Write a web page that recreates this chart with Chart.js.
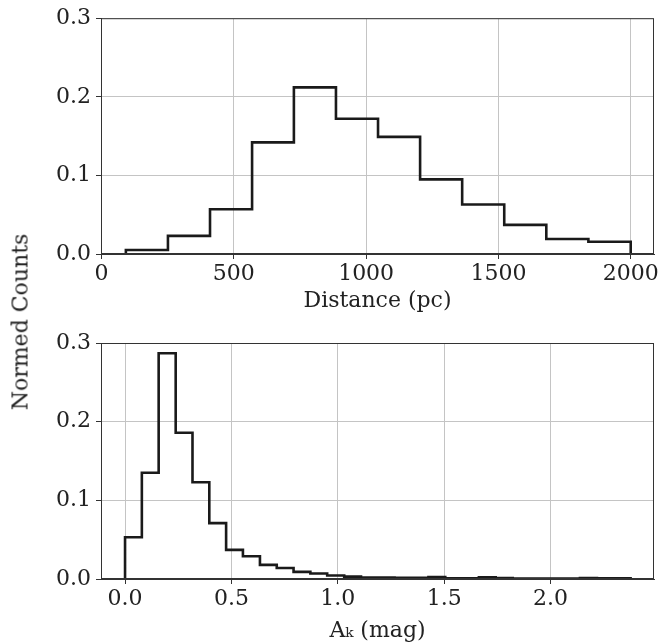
<!DOCTYPE html>
<html>
<head>
<meta charset="utf-8">
<script src="https://cdn.jsdelivr.net/npm/chart.js@4.4.1/dist/chart.umd.min.js"></script>
<style>
  html, body { margin: 0; padding: 0; background: #fff; }
  #wrap { position: relative; width: 663px; height: 644px; }
  canvas { position: absolute; left: 0; }
  #ylabel {
    position: absolute; left: 20px; top: 322px;
    transform: translate(-50%, -50%) rotate(-90deg);
    font: 22px "DejaVu Serif", serif; color: #222; white-space: nowrap;
  }
</style>
</head>
<body>
<div id="wrap">
  <canvas id="top" width="663" height="322" style="top:0"></canvas>
  <canvas id="bottom" width="663" height="322" style="top:322px"></canvas>
  <div id="ylabel">Normed Counts</div>
</div>
<script>
// distance histogram (bin edges in pc, normed counts per bin)
const distEdges = [92, 251, 410, 569, 727, 886, 1045, 1204, 1363, 1522, 1681, 1840, 2000];
const distCounts = [0.005, 0.023, 0.057, 0.142, 0.212, 0.172, 0.149, 0.095, 0.063, 0.037, 0.019, 0.0155];
const distTicks = [0, 500, 1000, 1500, 2000];

// extinction histogram (A_k in mag)
const akEdges = [0, 0.079, 0.158, 0.238, 0.317, 0.396, 0.475, 0.554, 0.634, 0.713, 0.792,
  0.871, 0.950, 1.030, 1.109, 1.188, 1.267, 1.346, 1.426, 1.505, 1.584,
  1.663, 1.742, 1.822, 1.901, 1.980, 2.059, 2.138, 2.218, 2.297, 2.376];
const akCounts = [0.053, 0.135, 0.287, 0.186, 0.123, 0.071, 0.037, 0.029, 0.018, 0.014,
  0.009, 0.007, 0.0045, 0.003, 0.002, 0.0017, 0.0015, 0.0015, 0.0025, 0.001,
  0.001, 0.0022, 0.0012, 0.0006, 0.0006, 0.0006, 0.0006, 0.0012, 0.0008, 0.001];
const akTicks = [0, 0.5, 1.0, 1.5, 2.0];

const yTicks = [0, 0.1, 0.2, 0.3];

const FONT = '"DejaVu Serif", serif';
const TEXT = '#222';

// matplotlib style "step" outline
function stepPoints(edges, counts) {
  const pts = [{ x: edges[0], y: 0 }];
  counts.forEach((c, i) => {
    pts.push({ x: edges[i], y: c });
    pts.push({ x: edges[i + 1], y: c });
  });
  pts.push({ x: edges[edges.length - 1], y: 0 });
  return pts;
}

const frame = {
  id: 'frame',
  afterDraw(chart) {
    const a = chart.chartArea;
    const ctx = chart.ctx;
    ctx.save();
    ctx.strokeStyle = '#333';
    ctx.lineWidth = 1;
    ctx.strokeRect(a.left + 0.5, a.top + 0.5, a.right - a.left - 1, a.bottom - a.top - 1);
    ctx.restore();
  }
};

function makeChart(id, pts, opts) {
  return new Chart(document.getElementById(id), {
    type: 'line',
    data: {
      datasets: [{
        data: pts,
        borderColor: '#1a1a1a',
        borderWidth: 2.6,
        pointRadius: 0,
        tension: 0,
        fill: false,
        borderJoinStyle: 'miter'
      }]
    },
    options: {
      responsive: false,
      animation: false,
      layout: { padding: { left: 0, right: 9, top: opts.padTop, bottom: 0 } },
      plugins: { legend: { display: false }, tooltip: { enabled: false } },
      scales: {
        x: {
          type: 'linear',
          min: opts.xMin,
          max: opts.xMax,
          afterBuildTicks: s => { s.ticks = opts.xTicks.map(v => ({ value: v })); },
          afterFit: s => { s.height = opts.xHeight; },
          ticks: {
            font: { family: FONT, size: 22 },
            color: TEXT,
            padding: 2,
            maxRotation: 0,
            callback: opts.xFmt
          },
          grid: { color: '#c4c4c4', lineWidth: 1, tickLength: 5, tickColor: '#333' },
          border: { display: true, color: '#333' },
          title: {
            display: true,
            text: opts.xTitle,
            font: { family: FONT, size: 22 },
            color: TEXT,
            padding: { top: 0, bottom: opts.titlePad }
          }
        },
        y: {
          min: 0,
          max: 0.3,
          afterBuildTicks: s => { s.ticks = yTicks.map(v => ({ value: v })); },
          afterFit: s => { s.width = 101; },
          ticks: {
            font: { family: FONT, size: 22 },
            color: TEXT,
            padding: 5,
            callback: v => v.toFixed(1)
          },
          grid: { color: '#c4c4c4', lineWidth: 1, tickLength: 5, tickColor: '#333' },
          border: { display: true, color: '#333' }
        }
      }
    },
    plugins: [frame]
  });
}

makeChart('top', stepPoints(distEdges, distCounts), {
  padTop: 16,
  xMin: -2, xMax: 2088,
  xTicks: distTicks,
  xFmt: v => String(v),
  xHeight: 68,
  xTitle: 'Distance (pc)',
  titlePad: 8
});

makeChart('bottom', stepPoints(akEdges, akCounts), {
  padTop: 21,
  xMin: -0.113, xMax: 2.486,
  xTicks: akTicks,
  xFmt: v => v.toFixed(1),
  xHeight: 65,
  xTitle: 'Aₖ (mag)',
  titlePad: 0
});
</script>
</body>
</html>
